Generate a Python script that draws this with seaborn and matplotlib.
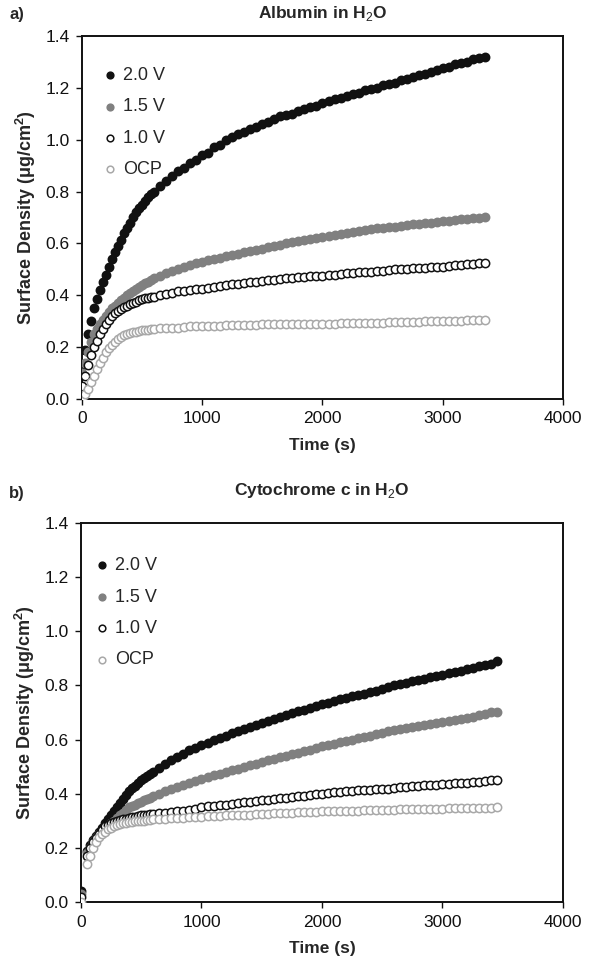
import matplotlib
matplotlib.use("Agg")
import matplotlib.pyplot as plt
import seaborn as sns
import pandas as pd

# =============================================================================
# DATOS (cada 25 s al inicio, luego cada 50 s)
# =============================================================================
tiempo_a = list(range(0, 625, 25)) + list(range(650, 3400, 50))
tiempo_b = [0] + list(range(50, 625, 25)) + list(range(650, 3500, 50))

alb_20 = [0.13, 0.19, 0.25, 0.30, 0.35, 0.385, 0.42, 0.45, 0.48, 0.51,
          0.54, 0.565, 0.59, 0.615, 0.64, 0.66, 0.68, 0.70, 0.72, 0.735,
          0.75, 0.765, 0.78, 0.79, 0.80,
          0.82, 0.84, 0.86, 0.88, 0.89, 0.91, 0.92,
          0.94, 0.95, 0.97, 0.98, 1.00, 1.01, 1.02, 1.03, 1.04, 1.05,
          1.06, 1.07, 1.08, 1.09, 1.095, 1.10, 1.11, 1.12, 1.125, 1.13,
          1.14, 1.15, 1.155, 1.16, 1.17, 1.175, 1.18, 1.19, 1.195, 1.20,
          1.21, 1.215, 1.22, 1.23, 1.235, 1.24, 1.25, 1.255, 1.26, 1.27,
          1.275, 1.28, 1.29, 1.295, 1.30, 1.31, 1.315, 1.32]
alb_15 = [0.10, 0.14, 0.18, 0.22, 0.25, 0.27, 0.29, 0.305, 0.32, 0.335,
          0.35, 0.36, 0.37, 0.38, 0.39, 0.40, 0.41, 0.418, 0.425, 0.433,
          0.44, 0.447, 0.453, 0.459, 0.465,
          0.475, 0.485, 0.493, 0.50, 0.508, 0.515, 0.523,
          0.53, 0.535, 0.54, 0.545, 0.55, 0.555, 0.56, 0.565, 0.57, 0.575,
          0.58, 0.585, 0.59, 0.595, 0.60, 0.605, 0.61, 0.614, 0.618, 0.622,
          0.625, 0.629, 0.633, 0.637, 0.64, 0.644, 0.648, 0.652, 0.655, 0.658,
          0.66, 0.663, 0.665, 0.668, 0.67, 0.673, 0.675, 0.678, 0.68, 0.683,
          0.685, 0.688, 0.69, 0.693, 0.695, 0.697, 0.699, 0.70]
alb_10 = [0.05, 0.09, 0.13, 0.17, 0.20, 0.225, 0.25, 0.27, 0.29, 0.305,
          0.32, 0.33, 0.34, 0.348, 0.355, 0.36, 0.365, 0.37, 0.375, 0.38,
          0.385, 0.388, 0.39, 0.393, 0.395,
          0.40, 0.405, 0.41, 0.415, 0.417, 0.42, 0.423,
          0.425, 0.429, 0.433, 0.437, 0.44, 0.443, 0.445, 0.448, 0.45, 0.453,
          0.455, 0.458, 0.46, 0.463, 0.465, 0.468, 0.47, 0.471, 0.473, 0.474,
          0.475, 0.478, 0.48, 0.483, 0.485, 0.486, 0.488, 0.489, 0.49, 0.493,
          0.495, 0.498, 0.50, 0.501, 0.503, 0.504, 0.505, 0.506, 0.508, 0.509,
          0.51, 0.513, 0.515, 0.518, 0.52, 0.522, 0.524, 0.525]
alb_ocp = [0.00, 0.02, 0.04, 0.065, 0.09, 0.115, 0.14, 0.16, 0.18, 0.195,
           0.21, 0.22, 0.23, 0.238, 0.245, 0.25, 0.255, 0.258, 0.26, 0.263,
           0.265, 0.266, 0.267, 0.269, 0.27,
           0.272, 0.275, 0.275, 0.275, 0.277, 0.28, 0.28,
           0.28, 0.281, 0.282, 0.283, 0.285, 0.285, 0.286, 0.286, 0.287, 0.287,
           0.288, 0.288, 0.289, 0.289, 0.289, 0.29, 0.29, 0.29, 0.29, 0.29,
           0.29, 0.291, 0.291, 0.292, 0.292, 0.293, 0.293, 0.294, 0.294, 0.295,
           0.295, 0.296, 0.296, 0.297, 0.297, 0.298, 0.298, 0.299, 0.299, 0.30,
           0.30, 0.301, 0.302, 0.302, 0.303, 0.304, 0.304, 0.305]

cyt_20 = [0.04, 0.19, 0.21, 0.23, 0.245, 0.26, 0.275, 0.29, 0.305,
          0.32, 0.335, 0.35, 0.365, 0.38, 0.395, 0.41, 0.42, 0.43, 0.44,
          0.45, 0.458, 0.465, 0.473, 0.48,
          0.495, 0.51, 0.523, 0.535, 0.548, 0.56, 0.57,
          0.58, 0.589, 0.598, 0.606, 0.615, 0.623, 0.63, 0.638, 0.645, 0.653,
          0.66, 0.668, 0.675, 0.683, 0.69, 0.698, 0.705, 0.711, 0.718, 0.724,
          0.73, 0.736, 0.743, 0.749, 0.755, 0.76, 0.765, 0.77, 0.775, 0.781,
          0.788, 0.794, 0.80, 0.805, 0.81, 0.815, 0.82, 0.825, 0.83, 0.835,
          0.84, 0.845, 0.85, 0.855, 0.86, 0.865, 0.87, 0.875, 0.88, 0.89]
cyt_15 = [0.03, 0.18, 0.20, 0.22, 0.235, 0.25, 0.26, 0.27, 0.28,
          0.29, 0.30, 0.31, 0.32, 0.33, 0.34, 0.35, 0.355, 0.36, 0.365,
          0.37, 0.375, 0.38, 0.385, 0.39,
          0.40, 0.41, 0.418, 0.425, 0.433, 0.44, 0.448,
          0.455, 0.461, 0.468, 0.474, 0.48, 0.486, 0.493, 0.499, 0.505, 0.511,
          0.518, 0.524, 0.53, 0.535, 0.54, 0.545, 0.55, 0.556, 0.563, 0.569,
          0.575, 0.58, 0.585, 0.59, 0.595, 0.60, 0.605, 0.61, 0.615, 0.62,
          0.625, 0.63, 0.635, 0.639, 0.643, 0.646, 0.65, 0.654, 0.658, 0.661,
          0.665, 0.669, 0.673, 0.676, 0.68, 0.685, 0.69, 0.695, 0.70, 0.70]
cyt_10 = [0.02, 0.17, 0.20, 0.22, 0.235, 0.25, 0.265, 0.28, 0.285,
          0.29, 0.295, 0.30, 0.303, 0.305, 0.308, 0.31, 0.313, 0.315, 0.318,
          0.32, 0.321, 0.322, 0.324, 0.325,
          0.328, 0.33, 0.333, 0.335, 0.338, 0.34, 0.345,
          0.35, 0.353, 0.355, 0.358, 0.36, 0.363, 0.365, 0.368, 0.37, 0.373,
          0.375, 0.378, 0.38, 0.383, 0.385, 0.388, 0.39, 0.393, 0.395, 0.398,
          0.40, 0.403, 0.405, 0.408, 0.41, 0.411, 0.413, 0.414, 0.415, 0.416,
          0.418, 0.419, 0.42, 0.423, 0.425, 0.428, 0.43, 0.431, 0.433, 0.434,
          0.435, 0.436, 0.438, 0.439, 0.44, 0.443, 0.445, 0.448, 0.45, 0.45]
cyt_ocp = [0.00, 0.14, 0.17, 0.20, 0.22, 0.24, 0.25, 0.26, 0.268,
           0.275, 0.28, 0.285, 0.288, 0.29, 0.293, 0.295, 0.297, 0.298, 0.299,
           0.30, 0.301, 0.302, 0.304, 0.305,
           0.306, 0.308, 0.309, 0.31, 0.311, 0.313, 0.314,
           0.315, 0.316, 0.318, 0.319, 0.32, 0.321, 0.322, 0.323, 0.323, 0.324,
           0.325, 0.326, 0.327, 0.328, 0.329, 0.33, 0.331, 0.332, 0.333, 0.334,
           0.335, 0.336, 0.336, 0.337, 0.337, 0.338, 0.338, 0.339, 0.339, 0.34,
           0.34, 0.341, 0.341, 0.342, 0.342, 0.343, 0.343, 0.344, 0.344, 0.345,
           0.345, 0.346, 0.346, 0.347, 0.347, 0.348, 0.348, 0.349, 0.349, 0.35]

etiquetas = ["2.0 V", "1.5 V", "1.0 V", "OCP"]
x_ticks = [0, 1000, 2000, 3000, 4000]
y_ticks = [0.0, 0.2, 0.4, 0.6, 0.8, 1.0, 1.2, 1.4]

# estilo de cada serie: (relleno, borde)
estilos = {
    "2.0 V": ("#111111", "#111111"),
    "1.5 V": ("#808080", "#808080"),
    "1.0 V": ("white", "#111111"),
    "OCP": ("white", "#a8a8a8"),
}

# =============================================================================
# FIGURA
# =============================================================================
sns.set_style("ticks")
plt.rcParams['font.family'] = ['Liberation Sans', 'DejaVu Sans']
plt.rcParams['mathtext.fontset'] = 'custom'
plt.rcParams['mathtext.rm'] = 'Liberation Sans'
plt.rcParams['mathtext.bf'] = 'Liberation Sans:bold'

fig = plt.figure(figsize=(5.96, 9.64), dpi=100)
ax_a = fig.add_axes([0.1376, 0.5861, 0.807, 0.3766])
ax_b = fig.add_axes([0.1359, 0.0643, 0.8087, 0.3932])


def graficar_panel(ax, tiempo, series, titulo, letra, leg_xy, pad_titulo, y_letra):
    df = pd.DataFrame({"t": tiempo})
    for et, vals in zip(etiquetas, series):
        df[et] = vals
    for et in etiquetas:
        relleno, borde = estilos[et]
        sns.scatterplot(data=df, x="t", y=et, ax=ax, marker="o", s=36,
                        facecolor=relleno, edgecolor=borde, linewidth=1.1,
                        label=et, zorder=3)
    ax.set_xlim(0, 4000)
    ax.set_ylim(0, 1.4)
    ax.set_xticks(x_ticks)
    ax.set_yticks(y_ticks)
    ax.set_yticklabels([f"{v:.1f}" for v in y_ticks])
    ax.tick_params(direction="out", length=4, width=1, labelsize=12.5, colors="#111111", pad=5)
    for sp in ax.spines.values():
        sp.set_visible(True)
        sp.set_linewidth(1.4)
        sp.set_color("#111111")
    ax.set_xlabel("Time (s)", fontsize=12.5, fontweight="bold", labelpad=8)
    ax.set_ylabel("Surface Density (μg/cm$^\\mathbf{2}$)", fontsize=13, fontweight="bold", labelpad=5)
    ax.set_title(titulo, fontsize=12.5, fontweight="bold", pad=pad_titulo)
    ax.text(-0.15, y_letra, letra, transform=ax.transAxes, fontsize=12, fontweight="bold",
            ha="left", va="center")
    leg = ax.legend(loc="upper left", bbox_to_anchor=leg_xy, frameon=False, fontsize=13,
                    handlelength=0.8, handletextpad=0.3, labelspacing=0.8,
                    borderpad=0, borderaxespad=0, markerscale=0.8)
    return leg


graficar_panel(ax_a, tiempo_a, [alb_20, alb_15, alb_10, alb_ocp],
               "Albumin in H$_2$O", "a)", (0.044, 0.915), 13, 1.058)
graficar_panel(ax_b, tiempo_b, [cyt_20, cyt_15, cyt_10, cyt_ocp],
               "Cytochrome c in H$_2$O", "b)", (0.029, 0.91), 20, 1.079)

fig.savefig("out.png", dpi=100)
